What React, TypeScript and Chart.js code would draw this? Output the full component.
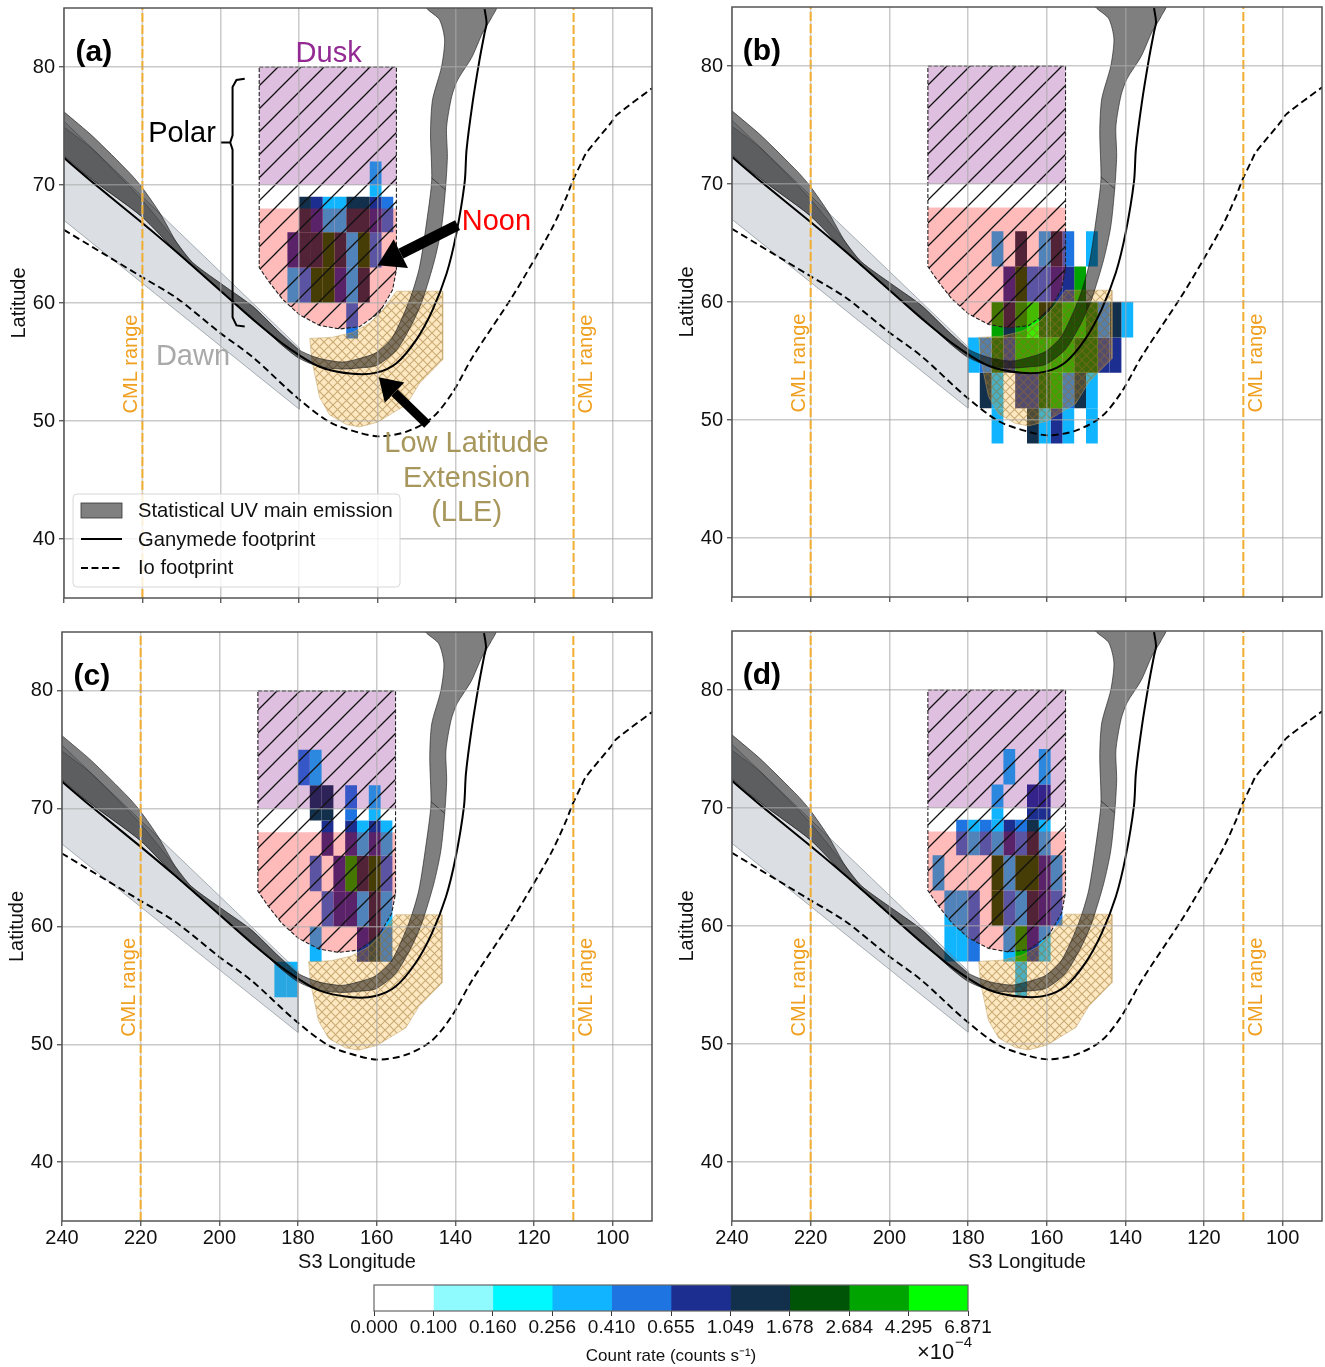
import React, { useEffect, useRef } from "react";
import { Chart, registerables } from "chart.js";

Chart.register(...registerables);
Chart.defaults.font.family = '"Liberation Sans", Arial, sans-serif';

const xTicks = [240, 220, 200, 180, 160, 140, 120, 100];
const yTicks = [40, 50, 60, 70, 80];
const cmlLongitudes = [220, 110];

const levelEdges = ["0.000", "0.100", "0.160", "0.256", "0.410", "0.655", "1.049", "1.678", "2.684", "4.295", "6.871"];
const levelColors = ["#ffffff", "#90fbff", "#00f8ff", "#10b4ff", "#1e74e0", "#1c2f90", "#122f4c", "#005408", "#00a400", "#00ff00"];

type P = [number, number];

const ovalUpper: P[] = [[240, 76.2], [232.6, 74.1], [223.2, 71], [220.1, 69.8], [215.5, 67.6], [211.2, 65.1], [207.1, 63.4], [198.5, 61.3], [191.8, 59.7], [185, 57.5], [179.9, 56], [174.8, 55.3], [168.9, 55], [164.6, 55.3], [160.3, 55.8], [156.2, 57.1], [151.8, 60.3], [149.3, 63.05], [147.3, 67.3], [146.2, 70.4], [146.5, 74.4], [146, 77.2], [143.7, 80], [142.9, 82.3], [144.2, 84], [147.3, 84.9], [149.5, 85.8]];
const ovalLower: P[] = [[129.7, 85.2], [130.9, 84.2], [133.2, 82.9], [136, 80.8], [139.6, 78.9], [141.1, 77.5], [142.4, 74.9], [142.2, 72.4], [142.7, 69.6], [143.7, 66.4], [145.5, 63.6], [148.5, 60.3], [151.1, 58.3], [155.2, 56], [160.3, 54.7], [164.6, 54.5], [168.9, 54.4], [174.8, 54.6], [179.9, 55.3], [185, 56.6], [191.8, 58.7], [200.3, 61.1], [211.2, 64.3], [220.1, 67.3], [232.6, 70.4], [240, 72.5]];
const ovalOverlap: P[] = [[240, 74.9], [232.6, 73], [220, 68.7], [211.2, 65.1], [207.1, 63.4], [198.5, 61.3], [191.8, 59.7], [185, 57.5], [180, 56], [180, 55.3], [185, 56.6], [191.8, 58.7], [200.3, 61.1], [211.2, 64.3], [220.1, 67.3], [232.6, 70.4], [240, 72.5]];
const ovalSeam: P[] = [[146.2, 70.6], [142.7, 69.6]];

const ganymede: P[] = [[240, 72.3], [232.6, 70.2], [220.1, 66.8], [211.2, 64.3], [200.3, 61.1], [191.8, 58.6], [183.2, 56.3], [174.8, 54.6], [166.4, 54], [160.3, 54.1], [155.2, 54.9], [150.1, 56.9], [146, 59.4], [142.4, 62.5], [139.9, 65.9], [137.8, 70.2], [137.3, 73], [135.8, 76.9], [134, 80.6], [132.7, 82.9], [132.2, 83.7], [132.7, 84.9]];
const io: P[] = [[240, 66.2], [220.1, 62.2], [211.2, 60.4], [200.3, 57.5], [191.8, 55.4], [180.6, 52], [172.2, 49.9], [164.6, 49], [159.5, 48.7], [152.6, 49.1], [146, 50.3], [140.9, 52.4], [135.8, 55.4], [125.9, 60.4], [120.5, 63.4], [115.4, 66.4], [111.8, 69], [110.3, 70.3], [108, 71.9], [106.8, 72.7], [100.4, 75.3], [99.1, 75.9], [90, 78.2]];

const dawn: P[] = [[240, 75.4], [180, 56.2], [180, 51], [240, 67], [240, 75.4]];
const dusk: P[] = [[190.2, 80], [155.2, 80], [155.2, 70], [190.2, 70], [190.2, 80]];
const noonCurve: P[] = [[190.2, 63], [187.5, 61.7], [184.2, 60.3], [179.9, 59], [174.8, 58.1], [169.7, 57.8], [164.6, 58], [159.5, 59.2], [156.2, 61.1], [155.2, 62.8]];
const noon: P[] = [[190.2, 68], [155.2, 68], ...noonCurve.slice().reverse(), [190.2, 68]];
const polar: P[] = [[190.2, 80], [155.2, 80], ...noonCurve.slice().reverse(), [190.2, 80]];
const lle: P[] = [[155.2, 61], [143.4, 61], [143.4, 55.2], [149.3, 53.2], [152.6, 51.4], [160, 49.9], [164.6, 49.5], [167.9, 49.7], [172.2, 50.5], [174.8, 52], [176.8, 55.2], [177.3, 57], [171.5, 57.1], [166.4, 57.5], [162, 58.3], [158.7, 59.4], [155.2, 61]];
const brace: P[] = [[193.9, 79], [196, 78.9], [197, 78.3], [197, 74.2], [197.6, 73.6], [200, 73.6], [197.6, 73.6], [197, 73], [197, 58.8], [196, 58.1], [193.9, 58]];

// [left longitude, bottom latitude, colour class]
const cellsA: [number, number, number][] = [
  [162, 69, 3],
  [180, 66, 6], [177, 66, 5], [174, 66, 3], [171, 66, 3], [168, 66, 6], [165, 66, 6], [162, 66, 5], [159, 66, 4],
  [183, 63, 5], [180, 63, 6], [177, 63, 6], [174, 63, 7], [171, 63, 6], [168, 63, 3], [165, 63, 7], [162, 63, 4],
  [183, 60, 3], [180, 60, 4], [177, 60, 7], [174, 60, 7], [171, 60, 5], [168, 60, 3], [165, 60, 6],
  [168, 57, 4],
];
const cellsB: [number, number, number][] = [
  [174, 63, 3], [168, 63, 6], [162, 63, 3], [159, 63, 6], [156, 63, 4], [150, 63, 3],
  [171, 60, 5], [168, 60, 7], [165, 60, 4], [162, 60, 4], [159, 60, 5], [156, 60, 5], [153, 60, 8],
  [174, 57, 8], [171, 57, 6], [168, 57, 8], [165, 57, 9], [162, 57, 7], [159, 57, 7], [156, 57, 8], [153, 57, 8], [150, 57, 7], [147, 57, 4], [144, 57, 6], [141, 57, 3],
  [180, 54, 3], [177, 54, 4], [174, 54, 7], [171, 54, 5], [168, 54, 8], [165, 54, 8], [162, 54, 8], [159, 54, 8], [156, 54, 8], [153, 54, 7], [150, 54, 7], [147, 54, 5], [144, 54, 5],
  [177, 51, 6], [174, 51, 3], [168, 51, 5], [165, 51, 5], [162, 51, 7], [159, 51, 8], [156, 51, 4], [153, 51, 6], [150, 51, 3],
  [174, 48, 3], [165, 48, 6], [162, 48, 3], [159, 48, 5], [156, 48, 3], [150, 48, 3],
];
const cellsC: [number, number, number][] = [
  [180, 72, 4], [177, 72, 3],
  [177, 69, 6], [174, 69, 6], [168, 69, 4], [162, 69, 3],
  [174, 66, 5], [168, 66, 5], [165, 66, 3], [162, 66, 5], [159, 66, 3],
  [177, 63, 4], [171, 63, 5], [168, 63, 8], [165, 63, 6], [162, 63, 7], [159, 63, 4],
  [174, 60, 4], [171, 60, 5], [168, 60, 5], [165, 60, 3], [162, 60, 6], [159, 60, 3],
  [177, 57, 3], [165, 57, 5], [162, 57, 6], [159, 57, 4],
  [186, 54, 3], [183, 54, 3],
];
const cellsD: [number, number, number][] = [
  [171, 72, 3], [162, 72, 3],
  [174, 69, 3], [165, 69, 5], [162, 69, 5],
  [183, 66, 4], [180, 66, 3], [177, 66, 4], [174, 66, 3], [171, 66, 5], [168, 66, 4], [165, 66, 6], [162, 66, 3],
  [189, 63, 3], [174, 63, 7], [171, 63, 3], [168, 63, 7], [165, 63, 7], [162, 63, 5], [159, 63, 3],
  [186, 60, 3], [183, 60, 3], [180, 60, 4], [174, 60, 7], [171, 60, 4], [168, 60, 3], [165, 60, 6], [162, 60, 5], [159, 60, 4],
  [186, 57, 3], [183, 57, 3], [180, 57, 4], [171, 57, 3], [168, 57, 8], [165, 57, 5], [162, 57, 3],
  [168, 54, 3],
];

const ORANGE = "#f2ae30";
const GRID = "rgba(170,170,170,0.62)";

function hatchPattern(): CanvasPattern {
  const s = 23;
  const c = document.createElement("canvas");
  c.width = s; c.height = s;
  const g = c.getContext("2d")!;
  g.strokeStyle = "#111"; g.lineWidth = 1.3;
  g.beginPath();
  g.moveTo(-2, s + 2); g.lineTo(s + 2, -2);
  g.moveTo(-s / 2 - 2, s / 2 + 2); g.lineTo(s / 2 + 2, -s / 2 - 2);
  g.moveTo(s / 2 - 2, s + s / 2 + 2); g.lineTo(s + s / 2 + 2, s / 2 - 2);
  g.stroke();
  return g.createPattern(c, "repeat")!;
}
function crossPattern(): CanvasPattern {
  const c = document.createElement("canvas");
  c.width = 9; c.height = 9;
  const g = c.getContext("2d")!;
  g.fillStyle = "rgba(250,165,10,0.25)";
  g.fillRect(0, 0, 9, 9);
  g.strokeStyle = "rgba(150,110,40,0.5)"; g.lineWidth = 1.1;
  g.beginPath();
  g.moveTo(-1, -1); g.lineTo(10, 10);
  g.moveTo(-1, 10); g.lineTo(10, -1);
  g.stroke();
  return g.createPattern(c, "repeat")!;
}

const pts = (a: P[]) => a.map(([x, y]) => ({ x, y }));
const area = (a: P[], color: any, order: number, extra: any = {}) => ({
  data: pts(a), showLine: true, fill: "shape", backgroundColor: color, borderColor: "transparent", borderWidth: 0, pointRadius: 0, order, tension: 0, ...extra,
});
const line = (a: P[], color: string, width: number, order: number, extra: any = {}) => ({
  data: pts(a), showLine: true, fill: false, borderColor: color, borderWidth: width, pointRadius: 0, order, tension: 0, ...extra,
});

function buildDatasets(cells: [number, number, number][], withBrace: boolean) {
  const oval = [...ovalUpper, ...ovalLower, ovalUpper[0]];
  const ds: any[] = [];
  cells.forEach(([lon, lat, lv]) => {
    const rect: P[] = [[lon, lat], [lon - 3, lat], [lon - 3, lat + 3], [lon, lat + 3], [lon, lat]];
    ds.push(area(rect, levelColors[lv], 100));
  });
  ds.push(area(dawn, "rgba(112,128,144,0.25)", 90, { borderColor: "rgba(110,120,130,0.55)", borderWidth: 1 }));
  ds.push(area(lle, crossPattern(), 80, { borderColor: "rgba(190,160,100,0.6)", borderWidth: 0.8 }));
  ds.push(area(noon, "rgba(255,0,0,0.27)", 70));
  ds.push(area(dusk, "rgba(128,0,128,0.25)", 69));
  ds.push(area(polar, hatchPattern(), 60, { borderColor: "#222", borderWidth: 1.1, borderDash: [4, 2] }));
  ds.push(area(oval, "rgba(0,0,0,0.5)", 50, { borderColor: "rgba(30,30,30,0.8)", borderWidth: 0.8, tension: 0.25 }));
  ds.push(area(ovalOverlap, "rgba(0,0,0,0.15)", 49, { borderColor: "rgba(30,30,30,0.5)", borderWidth: 0.7, tension: 0.2 }));
  ds.push(line(ovalSeam, "rgba(30,30,30,0.8)", 0.8, 48));
  ds.push(line(ganymede, "#000", 2, 40, { tension: 0.3 }));
  ds.push(line(io, "#000", 1.9, 39, { tension: 0.3, borderDash: [7, 4] }));
  ds.push(line([[220, 35], [220, 85]], "#cfcfcf", 1.5, 31));
  cmlLongitudes.forEach((lon) => ds.push(line([[lon, 35], [lon, 85]], ORANGE, 2, 30, { borderDash: [9, 3] })));
  if (withBrace) ds.push(line(brace, "#000", 2, 20));
  return ds;
}

type Txt = { t: string; lon: number; lat: number; font: string; color: string; rot?: boolean };
const panelLetterFont = "bold 30px 'Liberation Sans'";
const annoFont = "29px 'Liberation Sans'";
const cmlFont = "20px 'Liberation Sans'";
const commonTexts = (letter: string): Txt[] => [
  { t: letter, lon: 232.4, lat: 81.4, font: panelLetterFont, color: "#000" },
  { t: "CML range", lon: 223, lat: 55, font: cmlFont, color: "#f0a020", rot: true },
  { t: "CML range", lon: 107, lat: 55, font: cmlFont, color: "#f0a020", rot: true },
];
const panelATexts: Txt[] = [
  { t: "Dusk", lon: 172.5, lat: 81.3, font: annoFont, color: "#932a93" },
  { t: "Polar", lon: 209.9, lat: 74.5, font: annoFont, color: "#000" },
  { t: "Noon", lon: 129.7, lat: 67, font: annoFont, color: "#ff0000" },
  { t: "Dawn", lon: 207.1, lat: 55.6, font: annoFont, color: "#a9a9a9" },
  { t: "Low Latitude", lon: 137.3, lat: 48.2, font: annoFont, color: "#a8975c" },
  { t: "Extension", lon: 137.3, lat: 45.25, font: annoFont, color: "#a8975c" },
  { t: "(LLE)", lon: 137.3, lat: 42.4, font: annoFont, color: "#a8975c" },
];
const arrows: { from: P; to: P; w: number; head: number; hw: number }[] = [
  { from: [139.6, 66.6], to: [160, 63.2], w: 11, head: 26, hw: 16 },
  { from: [147.3, 49.7], to: [159.7, 53.7], w: 9, head: 22, hw: 14 },
];
const legendLabels = ["Statistical UV main emission", "Ganymede footprint", "Io footprint"];

function panelPlugin(letter: string, isA: boolean) {
  return {
    id: "panelDeco" + letter,
    afterDraw(chart: any) {
      const { ctx, chartArea: ca, scales } = chart;
      const X = (v: number) => scales.x.getPixelForValue(v);
      const Y = (v: number) => scales.y.getPixelForValue(v);
      ctx.save();
      ctx.strokeStyle = "#555"; ctx.lineWidth = 1.5; ctx.setLineDash([]);
      ctx.strokeRect(ca.left, ca.top, ca.right - ca.left, ca.bottom - ca.top);
      if (isA) {
        arrows.forEach((a) => {
          const x0 = X(a.from[0]), y0 = Y(a.from[1]), x1 = X(a.to[0]), y1 = Y(a.to[1]);
          const ang = Math.atan2(y1 - y0, x1 - x0);
          const bx = x1 - Math.cos(ang) * a.head, by = y1 - Math.sin(ang) * a.head;
          ctx.strokeStyle = "#000"; ctx.lineWidth = a.w;
          ctx.beginPath(); ctx.moveTo(x0, y0); ctx.lineTo(bx, by); ctx.stroke();
          ctx.fillStyle = "#000";
          ctx.beginPath(); ctx.moveTo(x1, y1);
          ctx.lineTo(bx - Math.sin(ang) * a.hw, by + Math.cos(ang) * a.hw);
          ctx.lineTo(bx + Math.sin(ang) * a.hw, by - Math.cos(ang) * a.hw);
          ctx.closePath(); ctx.fill();
        });
      }
      const texts = isA ? [...commonTexts(letter), ...panelATexts] : commonTexts(letter);
      ctx.textAlign = "center"; ctx.textBaseline = "middle";
      texts.forEach((t) => {
        ctx.save();
        ctx.translate(X(t.lon) + (t.rot ? 1 : 0), Y(t.lat) + 2);
        if (t.rot) ctx.rotate(-Math.PI / 2);
        ctx.font = t.font; ctx.fillStyle = t.color;
        ctx.fillText(t.t, 0, 0);
        ctx.restore();
      });
      if (isA) {
        const lx = ca.left + 9, ly = ca.top + 486, lw = 327, lh = 93;
        ctx.fillStyle = "rgba(255,255,255,0.82)"; ctx.strokeStyle = "#d8d8d8"; ctx.lineWidth = 1;
        ctx.beginPath(); ctx.roundRect(lx, ly, lw, lh, 4); ctx.fill(); ctx.stroke();
        ctx.fillStyle = "#808080"; ctx.strokeStyle = "#333"; ctx.lineWidth = 0.8;
        ctx.fillRect(lx + 8, ly + 9, 41, 15); ctx.strokeRect(lx + 8, ly + 9, 41, 15);
        ctx.strokeStyle = "#000"; ctx.lineWidth = 2;
        ctx.beginPath(); ctx.moveTo(lx + 8, ly + 45); ctx.lineTo(lx + 49, ly + 45); ctx.stroke();
        ctx.setLineDash([7, 3.5]);
        ctx.beginPath(); ctx.moveTo(lx + 8, ly + 74); ctx.lineTo(lx + 49, ly + 74); ctx.stroke();
        ctx.setLineDash([]);
        ctx.fillStyle = "#111"; ctx.textAlign = "left"; ctx.textBaseline = "middle"; ctx.font = "20.2px 'Liberation Sans'";
        legendLabels.forEach((l, i) => ctx.fillText(l, lx + 65, ly + 17.5 + i * 28.7));
      }
      ctx.restore();
    },
  };
}

type PanelCfg = { letter: string; cells: [number, number, number][]; left: number; top: number; h: number; plotTop: number; plotBottom: number; plotRight: number; labels: boolean };
const PANEL_W = 660;

function Panel({ cfg }: { cfg: PanelCfg }) {
  const ref = useRef<HTMLCanvasElement>(null);
  useEffect(() => {
    const isA = cfg.letter === "(a)";
    const chart = new Chart(ref.current!, {
      type: "scatter",
      data: { datasets: buildDatasets(cfg.cells, isA) },
      options: {
        animation: false, responsive: false,
        layout: { padding: { left: 0, top: cfg.plotTop, right: PANEL_W - cfg.plotRight, bottom: 0 } },
        plugins: { legend: { display: false }, tooltip: { enabled: false } },
        scales: {
          x: {
            type: "linear", reverse: true, min: 90, max: 240,
            afterBuildTicks: (ax: any) => { ax.ticks = xTicks.map((value) => ({ value })); },
            afterFit: (ax: any) => { ax.height = cfg.h - cfg.plotBottom; },
            ticks: { display: cfg.labels, color: "#111", font: { size: 20 }, padding: 0, maxRotation: 0, autoSkip: false, callback: (v: any) => String(v) },
            grid: { z: 1, color: (c: any) => (c.tick && c.tick.value === 220 ? "rgba(0,0,0,0)" : GRID), lineWidth: 1.5, tickColor: "#444", tickLength: 5, tickWidth: 1.2 },
            border: { display: false },
            title: { display: cfg.labels, text: "S3 Longitude", color: "#111", font: { size: 20 }, padding: { top: 0, bottom: 6 } },
          },
          y: {
            type: "linear", min: 35, max: 85,
            afterBuildTicks: (ax: any) => { ax.ticks = yTicks.map((value) => ({ value })); },
            afterFit: (ax: any) => { ax.width = 64; ax.paddingTop = 0; ax.paddingBottom = 0; },
            ticks: { color: "#111", font: { size: 20 }, padding: 4, callback: (v: any) => String(v) },
            grid: { z: 1, color: GRID, lineWidth: 1.5, tickColor: "#444", tickLength: 5, tickWidth: 1.2 },
            border: { display: false },
            title: { display: true, text: "Latitude", color: "#111", font: { size: 20 }, padding: { top: 7, bottom: 0 } },
          },
        },
      } as any,
      plugins: [panelPlugin(cfg.letter, isA)],
    });
    return () => chart.destroy();
  }, []);
  return <canvas ref={ref} width={PANEL_W} height={cfg.h} style={{ position: "absolute", left: cfg.left, top: cfg.top, width: PANEL_W, height: cfg.h, display: "block" }} />;
}

function ColorBar() {
  const ref = useRef<HTMLCanvasElement>(null);
  useEffect(() => {
    const chart = new Chart(ref.current!, {
      type: "bar",
      data: {
        labels: [""],
        datasets: levelColors.map((c) => ({ data: [1], backgroundColor: c, borderWidth: 0, barPercentage: 1, categoryPercentage: 1 })),
      },
      options: {
        indexAxis: "y", animation: false, responsive: false,
        layout: { padding: { left: 34, right: 52, top: 15, bottom: 0 } },
        plugins: { legend: { display: false }, tooltip: { enabled: false } },
        scales: {
          x: {
            stacked: true, min: 0, max: levelColors.length,
            afterBuildTicks: (ax: any) => { ax.ticks = levelEdges.map((_, value) => ({ value })); },
            afterFit: (ax: any) => { ax.height = 56; },
            ticks: { color: "#111", font: { size: 19 }, padding: 0, maxRotation: 0, autoSkip: false, callback: (v: any) => levelEdges[v] },
            grid: { drawOnChartArea: false, tickColor: "#333", tickLength: 5 },
            border: { display: false },
            title: { display: true, text: "Count rate (counts s\u207B\u00B9)", color: "#111", font: { size: 17 }, padding: { top: 0, bottom: 0 } },
          },
          y: { stacked: true, display: false },
        },
      } as any,
      plugins: [{
        id: "cbDeco",
        afterDraw(c: any) {
          const { ctx, chartArea: ca } = c;
          ctx.save();
          ctx.strokeStyle = "#666"; ctx.lineWidth = 1.2;
          ctx.strokeRect(ca.left, ca.top, ca.right - ca.left, ca.bottom - ca.top);
          ctx.fillStyle = "#111"; ctx.textBaseline = "middle"; ctx.textAlign = "left";
          ctx.font = "22px 'Liberation Sans'";
          ctx.fillText("\u00D710", 577, 83);
          ctx.font = "15px 'Liberation Sans'";
          ctx.fillText("\u22124", 615, 73);
          ctx.restore();
        },
      }],
    });
    return () => chart.destroy();
  }, []);
  return <canvas ref={ref} width={680} height={97} style={{ position: "absolute", left: 340, top: 1270, width: 680, height: 97, display: "block" }} />;
}

const panels: PanelCfg[] = [
  { letter: "(a)", cells: cellsA, left: 0, top: 0, h: 620, plotTop: 8, plotBottom: 598, plotRight: 652, labels: false },
  { letter: "(b)", cells: cellsB, left: 668, top: 0, h: 620, plotTop: 7, plotBottom: 597, plotRight: 654, labels: false },
  { letter: "(c)", cells: cellsC, left: -2, top: 625, h: 655, plotTop: 7, plotBottom: 596, plotRight: 654, labels: true },
  { letter: "(d)", cells: cellsD, left: 668, top: 625, h: 655, plotTop: 6, plotBottom: 596, plotRight: 654, labels: true },
];

export default function App() {
  useEffect(() => { document.body.style.margin = "0"; }, []);
  return (
    <div style={{ position: "absolute", left: 0, top: 0, width: 1325, height: 1367, overflow: "hidden", background: "#fff" }}>
      {panels.map((p) => <Panel key={p.letter} cfg={p} />)}
      <ColorBar />
    </div>
  );
}
